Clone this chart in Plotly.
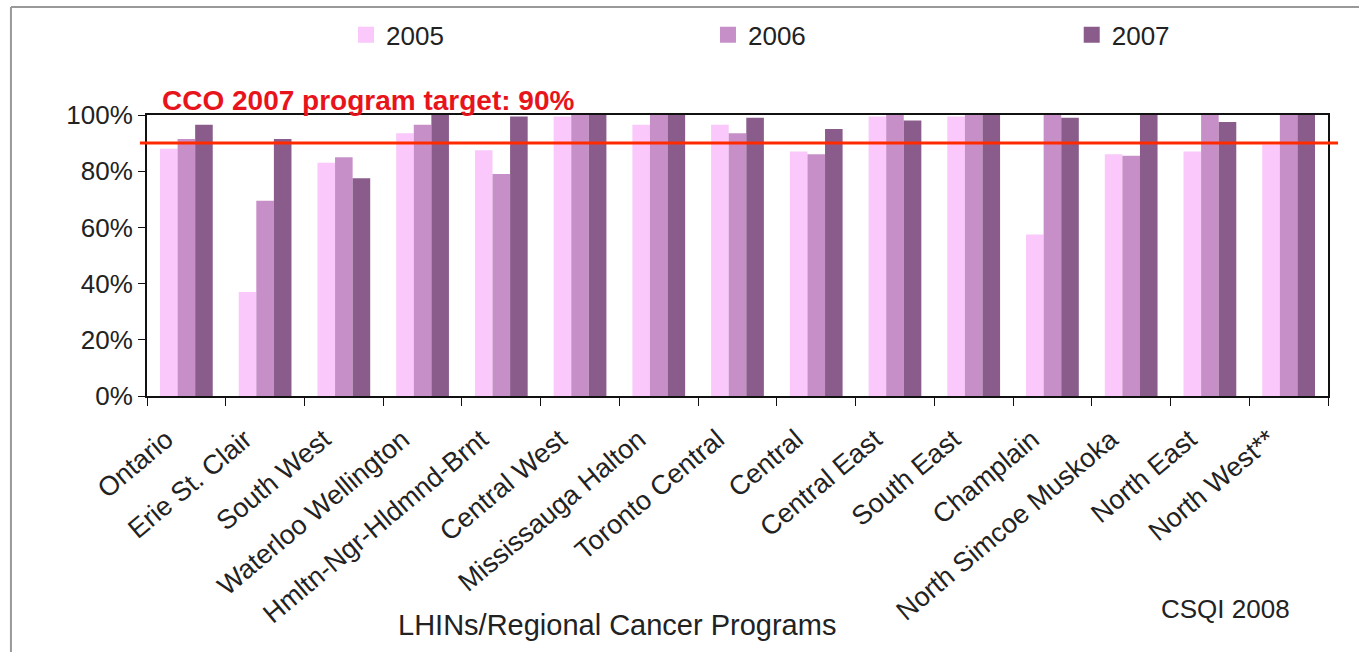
import plotly.graph_objects as go

# LHINs / regional cancer programs
regions = ["Ontario", "Erie St. Clair", "South West", "Waterloo Wellington",
           "Hmltn-Ngr-Hldmnd-Brnt", "Central West", "Mississauga Halton",
           "Toronto Central", "Central", "Central East", "South East",
           "Champlain", "North Simcoe Muskoka", "North East", "North West**"]

# % values
y2005 = [88, 37, 83, 93.5, 87.5, 99.5, 96.5, 96.5, 87, 99.5, 99.5, 57.5, 86, 87, 89.5]
y2006 = [91.5, 69.5, 85, 96.5, 79, 100, 100, 93.5, 86, 100, 100, 100, 85.5, 100, 100]
y2007 = [96.5, 91.5, 77.5, 100, 99.5, 100, 100, 99, 95, 98, 100, 99, 100, 97.5, 100]

years = ["2005", "2006", "2007"]
colors = ["#FAC8FA", "#C68FC7", "#8A5C8B"]
target = 90

y_ticks = [0, 20, 40, 60, 80, 100]
y_labels = ["0%", "20%", "40%", "60%", "80%", "100%"]

fnt = "Liberation Sans, Arial, sans-serif"

fig = go.Figure()
legend_ids = ["legend", "legend2", "legend3"]
for yr, vals, col, lg in zip(years, [y2005, y2006, y2007], colors, legend_ids):
    fig.add_trace(go.Bar(x=regions, y=vals, name=yr, marker_color=col,
                         marker_line_width=0, showlegend=False, legendgroup=yr))
    # bigger legend swatch, one legend box per year so they can be spread out
    fig.add_trace(go.Scatter(x=[None], y=[None], mode="markers", name=yr, legendgroup=yr,
                             legend=lg, marker=dict(symbol="square", size=16, color=col)))

# target line
fig.add_shape(type="line", xref="paper", yref="y", x0=-0.006, x1=1.0085,
              y0=target, y1=target, line=dict(color="#FF2A00", width=3))
fig.add_annotation(text="CCO 2007 program target: 90%", xref="paper", yref="paper",
                   x=0.011, y=1.05, xanchor="left", yanchor="middle", showarrow=False,
                   font=dict(family=fnt, size=28, color="#E8141B", weight="bold"))

fig.add_annotation(text="LHINs/Regional Cancer Programs", xref="paper", yref="paper",
                   x=0.398, y=-0.815, xanchor="center", yanchor="middle", showarrow=False,
                   font=dict(family=fnt, size=29, color="#222"))
fig.add_annotation(text="CSQI 2008", xref="paper", yref="paper",
                   x=0.9128, y=-0.758, xanchor="center", yanchor="middle", showarrow=False,
                   font=dict(family=fnt, size=26, color="#222"))

# outer frame (top and left edges only visible)
fig.add_shape(type="line", xref="paper", yref="paper", x0=-0.1152, x1=1.1,
              y0=1.384, y1=1.384, line=dict(color="#999", width=2))
fig.add_shape(type="line", xref="paper", yref="paper", x0=-0.1152, x1=-0.1152,
              y0=1.384, y1=-0.95, line=dict(color="#999", width=2))

leg = dict(orientation="h", y=1.285, xanchor="left", yanchor="middle",
           font=dict(size=26), bgcolor="rgba(0,0,0,0)", itemclick=False)

fig.update_layout(
    width=1359, height=652,
    margin=dict(l=147, r=31, t=115, b=256),
    paper_bgcolor="white", plot_bgcolor="white",
    barmode="group", bargap=0.33, bargroupgap=0,
    font=dict(family=fnt, size=26, color="#222"),
    legend=dict(leg, x=0.1685),
    legend2=dict(leg, x=0.475),
    legend3=dict(leg, x=0.783),
    xaxis=dict(showline=True, linecolor="#111", linewidth=2, mirror=True,
               ticks="outside", ticklen=8, tickcolor="#111", tickson="boundaries",
               tickangle=-40, tickfont=dict(size=27), automargin=False,
               ticklabelshift=-20, ticklabelstandoff=15, showgrid=False),
    yaxis=dict(range=[0, 100], tickvals=y_ticks, ticktext=y_labels,
               showline=True, linecolor="#111", linewidth=2, mirror=True,
               ticks="outside", ticklen=7, tickcolor="#111", showgrid=False,
               zeroline=False, tickfont=dict(size=26), automargin=False),
)

fig.write_html("out.html", config={"displayModeBar": False},
               post_script="document.body.style.margin='0';document.body.style.overflow='hidden';")
